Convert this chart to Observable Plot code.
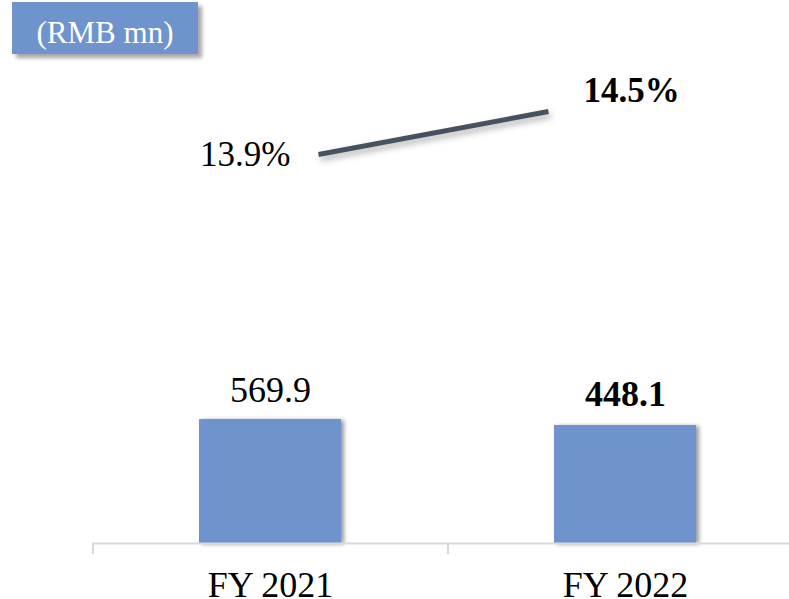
<!DOCTYPE html>
<html>
<head>
<meta charset="utf-8">
<script src="https://cdn.jsdelivr.net/npm/d3@7"></script>
<script src="https://cdn.jsdelivr.net/npm/@observablehq/plot@0.6"></script>
<style>
  html, body { margin: 0; padding: 0; background: #ffffff; overflow: hidden; }
  #wrap { position: relative; width: 789px; height: 599px; font-family: "Liberation Serif", "Times New Roman", serif; }
  #unit { position: absolute; left: 12px; top: 2px; width: 186px; height: 52px; background: #6f93cc;
          color: #ffffff; font-size: 31px; line-height: 62px; text-align: center; overflow: visible;
          box-shadow: 4px 4px 4px rgba(0,0,0,0.35); z-index: 3; }
  #unit span { position: relative; top: -5px; }
  #bars, #line { position: absolute; left: 0; top: 0; }
  #line { z-index: 2; }
  #bars g[aria-label="bar"] rect { filter: drop-shadow(3px 1px 2px rgba(0,0,0,0.4)); }
  #line g[aria-label="line"] path { filter: drop-shadow(2px 4px 3px rgba(0,0,0,0.3)); }
</style>
</head>
<body>
<div id="wrap">
  <div id="unit"></div>
  <div id="bars"></div>
  <div id="line"></div>
</div>
<script>
const unitLabel = "(RMB mn)";
const categories = ["FY 2021", "FY 2022"];
const revenue = [569.9, 448.1];
const revenueLabels = ["569.9", "448.1"];
const marginPct = [13.9, 14.5];
const marginLabels = ["13.9%", "14.5%"];

const rows = categories.map((c, i) => ({
  cat: c, value: revenue[i], label: revenueLabels[i],
  pct: marginPct[i], pctLabel: marginLabels[i], last: i === categories.length - 1
}));

document.getElementById("unit").textContent = unitLabel;

const barBase = -1947;
const font = '"Liberation Serif", "Times New Roman", serif';
const step = (802 - 92) / 2;

const bars = Plot.plot({
  width: 789,
  height: 599,
  marginTop: 0, marginBottom: 56, marginLeft: 92, marginRight: 0,
  style: { fontFamily: font, background: "transparent", overflow: "visible" },
  x: { type: "band", domain: categories, range: [92, 802], paddingInner: 0.6, paddingOuter: 0.3, label: null },
  y: { domain: [barBase, 9076], range: [543, 0], axis: null },
  marks: [
    Plot.barY(rows, { x: "cat", y1: barBase, y2: "value", fill: "#6f93cc" }),
    Plot.ruleY([barBase], { stroke: "#d9d9d9", strokeWidth: 2 }),
    Plot.ruleX(categories, { x: d => d, dx: -step / 2, y1: barBase, y2: barBase, insetBottom: -11, stroke: "#d9d9d9", strokeWidth: 2 }),
    Plot.axisX({ tickSize: 0, tickPadding: 28, fontSize: 36, fontFamily: font, color: "#000000" }),
    Plot.text(rows.filter(d => !d.last), { x: "cat", y: "value", text: "label", lineAnchor: "bottom", dy: -18, fontSize: 36, fontFamily: font, fill: "#000000" }),
    Plot.text(rows.filter(d => d.last), { x: "cat", y: "value", text: "label", lineAnchor: "bottom", dy: -20, fontSize: 36, fontFamily: font, fontWeight: "bold", fill: "#000000" })
  ]
});
document.getElementById("bars").appendChild(bars);

const line = Plot.plot({
  width: 789,
  height: 599,
  margin: 0,
  style: { fontFamily: font, background: "transparent", overflow: "visible" },
  x: { type: "point", domain: categories, range: [318, 548], padding: 0, axis: null },
  y: { domain: [13.9, 14.5], range: [154, 111], axis: null },
  marks: [
    Plot.line(rows, { x: "cat", y: "pct", stroke: "#475260", strokeWidth: 5, strokeLinecap: "butt" }),
    Plot.text(rows.filter(d => !d.last), { x: "cat", y: "pct", text: "pctLabel", textAnchor: "end", dx: -28, lineAnchor: "middle", fontSize: 35, fontFamily: font, fill: "#000000" }),
    Plot.text(rows.filter(d => d.last), { x: "cat", y: "pct", text: "pctLabel", textAnchor: "start", dx: 35, dy: -21, lineAnchor: "middle", fontSize: 35, fontFamily: font, fontWeight: "bold", fill: "#000000" })
  ]
});
document.getElementById("line").appendChild(line);
</script>
</body>
</html>
